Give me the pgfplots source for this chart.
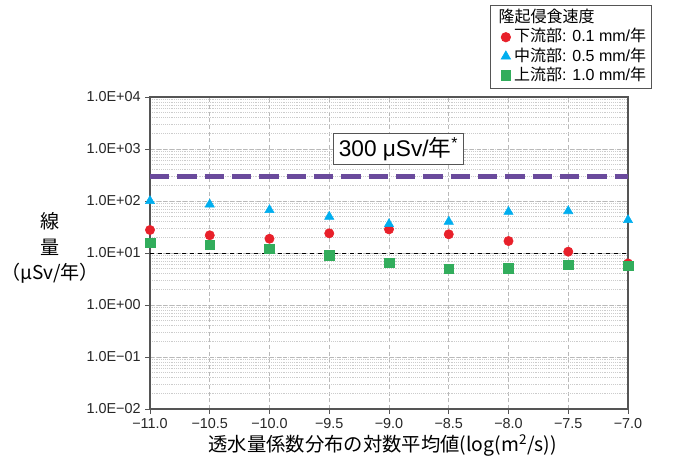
\documentclass[border=0pt]{standalone}
\usepackage{fontspec}
\setmainfont{Liberation Sans}
\newfontfamily\jp{Noto Sans CJK JP}
\usepackage{pgfplots}
\pgfplotsset{compat=1.18}
\definecolor{cred}{HTML}{E8202A}
\definecolor{ccyan}{HTML}{00AEEF}
\definecolor{cgreen}{HTML}{32AD5C}
\definecolor{cpurple}{HTML}{6A4A9C}
\definecolor{frame}{HTML}{555555}
\begin{document}
\begin{tikzpicture}
\path[use as bounding box] (-112.5pt,-42.75pt) rectangle (396pt,306.75pt);
\begin{axis}[
  scale only axis, width=358.5pt, height=234pt,
  at={(0,0)}, anchor=south west,
  xmin=-11, xmax=-7,
  ymode=log, ymin=1e-2, ymax=1e4,
  xtick={-11,-10.5,-10,-9.5,-9,-8.5,-8,-7.5,-7},
  xticklabels={−11.0,−10.5,−10.0,−9.5,−9.0,−8.5,−8.0,−7.5,−7.0},
  ytick={1e-2,1e-1,1,10,100,1000,10000},
  yticklabels={1.0E−02,1.0E−01,1.0E+00,1.0E+01,1.0E+02,1.0E+03,1.0E+04},
  ticklabel style={font=\fontsize{10.8}{12}\selectfont, text=black!85},
  xtick pos=bottom, ytick pos=left,
  tick align=outside, major tick length=3.5pt, minor tick length=0pt,
  tick style={frame, line width=0.6pt},
  axis line style={frame, line width=1pt},
  grid=both,
  major grid style={gray!55, densely dashed, line width=0.5pt},
  minor grid style={gray!40, densely dotted, line width=0.45pt},
  xlabel={\jp 透水量係数分布の対数平均値(log(m\textsuperscript{2}/s))},
  xlabel style={at={(axis description cs:0.487,-0.117)}, anchor=center, font=\fontsize{14.5}{16}\selectfont},
  ylabel={線\\量\\（μSv/年）},
  ylabel style={at={(axis description cs:-0.209,0.516)}, anchor=center, rotate=-90, align=center, font=\jp\fontsize{14.3}{19}\selectfont},
  legend style={at={(axis description cs:1.050,1.295)}, anchor=north east,
    draw=frame, line width=0.6pt, font=\fontsize{12}{13.5}\selectfont,
    nodes={inner sep=1pt, text height=9.5pt, text depth=2.5pt},
    row sep=0.4pt, inner xsep=3pt, inner ysep=2.5pt},
  legend cell align=left,
  clip=false,
]
\addlegendimage{empty legend}
\addlegendentry{\hspace*{-10pt}\jp 隆起侵食速度}
\addplot[cpurple, line width=3.8pt, dash pattern=on 14.5pt off 6pt, forget plot] coordinates {(-11,300) (-7,300)};
\addplot[black, dashed, line width=0.7pt, forget plot] coordinates {(-11,10) (-7,10)};
\addplot[only marks, mark=*, mark size=3.5pt, cred, mark options={draw=cred, fill=cred}] coordinates {
(-11,27.7) (-10.5,21.9) (-10,18.8) (-9.5,23.9) (-9,28.5) (-8.5,22.9) (-8,17) (-7.5,10.6) (-7,6.3)};
\addlegendentry{\hspace*{1.5pt}{\jp 下流部}: 0.1 mm/{\jp 年}}
\addplot[only marks, mark=triangle*, mark size=4pt, ccyan, mark options={draw=ccyan, fill=ccyan}] coordinates {
(-11,100) (-10.5,86) (-10,67) (-9.5,50) (-9,36) (-8.5,40) (-8,62) (-7.5,64) (-7,43)};
\addlegendentry{\hspace*{1.5pt}{\jp 中流部}: 0.5 mm/{\jp 年}}
\addplot[only marks, mark=square*, mark size=3.6pt, cgreen, mark options={draw=cgreen, fill=cgreen}] coordinates {
(-11,15.8) (-10.5,14.3) (-10,12.1) (-9.5,9.1) (-9,6.5) (-8.5,5.0) (-8,5.1) (-7.5,5.9) (-7,5.7)};
\addlegendentry{\hspace*{1.5pt}{\jp 上流部}: 1.0 mm/{\jp 年}}
\node[draw=frame, line width=0.6pt, fill=white, inner xsep=4pt, inner ysep=3pt, font=\fontsize{17}{18}\selectfont]
  at (axis cs:-8.92,1000) {300 μSv/{\jp 年}\textsuperscript{*}};
\end{axis}
\end{tikzpicture}
\end{document}
